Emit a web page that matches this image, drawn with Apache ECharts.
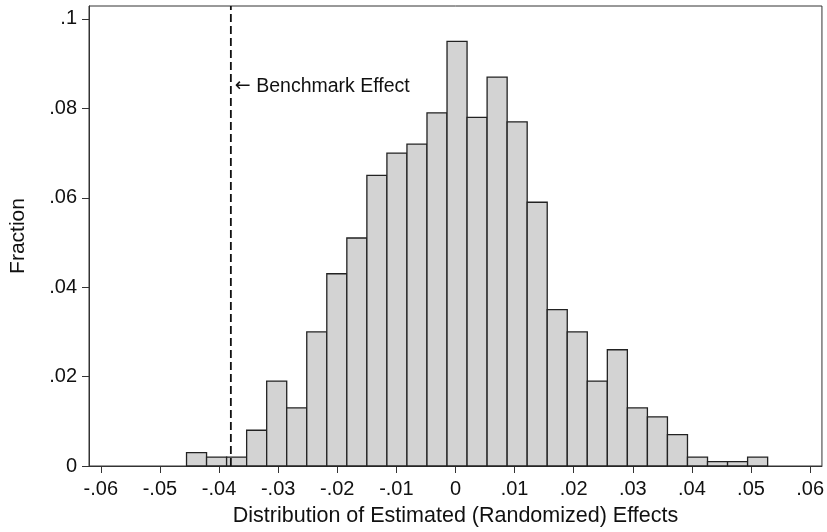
<!DOCTYPE html>
<html>
<head>
<meta charset="utf-8">
<script src="https://cdn.jsdelivr.net/npm/echarts@6/dist/echarts.min.js"></script>
<style>
  html, body { margin: 0; padding: 0; background: #fff; }
  #chart { width: 827px; height: 532px; }
</style>
</head>
<body>
<div id="chart"></div>
<script>
// histogram bins
const binStart = -0.0455;
const binWidth = 0.00339;
const fractions = [
  0.003, 0.002, 0.002, 0.008, 0.019, 0.013, 0.030, 0.043, 0.051, 0.065,
  0.070, 0.072, 0.079, 0.095, 0.078, 0.087, 0.077, 0.059, 0.035, 0.030,
  0.019, 0.026, 0.013, 0.011, 0.007, 0.002, 0.001, 0.001, 0.002
];
const benchmark = -0.038;
const noteY = 0.0849;
const xTicks = [-0.06, -0.05, -0.04, -0.03, -0.02, -0.01, 0, 0.01, 0.02, 0.03, 0.04, 0.05, 0.06];
const yTicks = [0, 0.02, 0.04, 0.06, 0.08, 0.1];

const FONT = '"Liberation Sans", Arial, Helvetica, sans-serif';
const INK = '#111';
const Y_MAX = 0.1029;

// stata style: no leading zero
function fmt(v) {
  if (v === 0) return '0';
  const s = parseFloat(Math.abs(v).toFixed(3)).toString().replace(/^0/, '');
  return (v < 0 ? '-' : '') + s;
}

const bins = fractions.map((f, i) => [binStart + i * binWidth, binStart + (i + 1) * binWidth, f]);

const chart = echarts.init(document.getElementById('chart'));
chart.setOption({
  animation: false,
  grid: {
    left: 87, right: 5, top: 6, bottom: 64,
    show: true, borderColor: '#333', borderWidth: 1
  },
  xAxis: {
    type: 'value',
    min: -0.062, max: 0.062,
    name: 'Distribution of Estimated (Randomized) Effects',
    nameLocation: 'middle',
    nameGap: 39,
    nameTextStyle: { fontFamily: FONT, fontSize: 21.5, color: INK },
    splitLine: { show: false },
    axisLine: { onZero: false, lineStyle: { color: '#333', width: 1 } },
    axisTick: { customValues: xTicks, length: 7, lineStyle: { color: '#333' } },
    axisLabel: {
      customValues: xTicks, formatter: fmt, margin: 13,
      fontFamily: FONT, fontSize: 20, color: INK
    }
  },
  yAxis: {
    type: 'value',
    min: 0, max: Y_MAX,
    name: 'Fraction',
    nameLocation: 'middle',
    nameGap: 60,
    nameTextStyle: { fontFamily: FONT, fontSize: 21, color: INK },
    splitLine: { show: false },
    axisLine: { show: true, onZero: false, lineStyle: { color: '#333', width: 1 } },
    axisTick: { show: true, customValues: yTicks, length: 7, lineStyle: { color: '#333' } },
    axisLabel: {
      customValues: yTicks, formatter: fmt, margin: 12,
      fontFamily: FONT, fontSize: 20, color: INK
    }
  },
  series: [
    {
      type: 'custom',
      data: bins,
      encode: { x: [0, 1], y: 2 },
      renderItem: function (params, api) {
        const p0 = api.coord([api.value(0), 0]);
        const p1 = api.coord([api.value(1), api.value(2)]);
        return {
          type: 'rect',
          shape: { x: p0[0], y: p1[1], width: p1[0] - p0[0], height: p0[1] - p1[1] },
          style: { fill: '#d3d3d3', stroke: '#222', lineWidth: 1.3 }
        };
      },
      z: 2
    },
    {
      // benchmark effect, dashed vertical
      type: 'line',
      data: [[benchmark, 0], [benchmark, Y_MAX]],
      symbol: 'none',
      silent: true,
      lineStyle: { color: INK, width: 1.8, type: [8, 4] },
      z: 3
    }
  ]
});

// annotation text next to the dashed line
const p = chart.convertToPixel({ gridIndex: 0 }, [benchmark, noteY]);
chart.setOption({
  graphic: [{
    type: 'text',
    x: p[0] + 4, y: p[1],
    style: {
      text: '{a|\u2190} Benchmark Effect',
      font: '19.5px ' + FONT,
      fill: INK,
      verticalAlign: 'middle',
      rich: {
        a: { fontFamily: '"DejaVu Sans", sans-serif', fontSize: 19, fill: INK }
      }
    }
  }]
});
</script>
</body>
</html>
